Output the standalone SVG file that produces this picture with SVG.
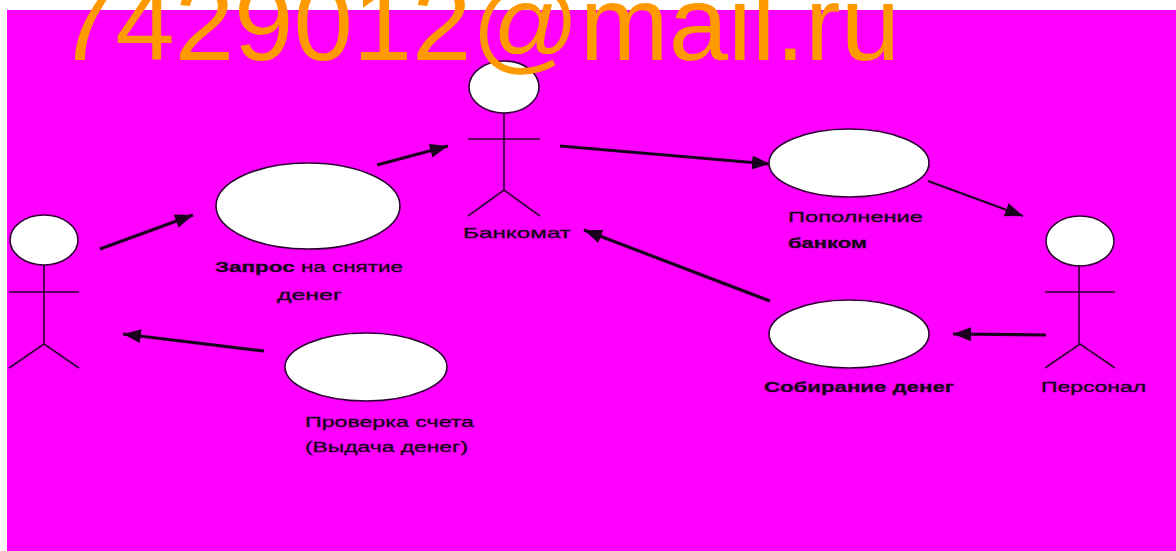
<svg xmlns="http://www.w3.org/2000/svg" width="1176" height="551" viewBox="0 0 1176 551">
<style>
.body{fill:none;stroke:#2a0030;stroke-width:1.6}
.head,.case{fill:#fff;stroke:#2a0030;stroke-width:1.6}
.conn{fill:none;stroke:#1a001e;stroke-width:3.2;marker-end:url(#arrow)}
.thin{stroke-width:2.2}
.lbl{font-family:"Liberation Sans",Arial,sans-serif;font-size:15px;fill:#1a001e;stroke:#1a001e;stroke-width:.35}
.b{font-weight:bold}
.wm{font-family:"Liberation Sans",Arial,sans-serif;font-size:106px;fill:#f90}
</style>
<defs>
<marker id="arrow" markerUnits="userSpaceOnUse" markerWidth="22" markerHeight="16" refX="18" refY="7" orient="auto">
<path d="M0 0L18 7L0 14Z" fill="#1a001e"/>
</marker>
</defs>
<rect x="7" y="10" width="1169" height="541" fill="#f0f"/>
<g id="connectors">
<line class="conn" x1="100" y1="249" x2="193" y2="215"/>
<line class="conn" x1="377" y1="165" x2="448" y2="146"/>
<line class="conn" x1="560" y1="146" x2="770" y2="164"/>
<line class="conn thin" x1="928" y1="181" x2="1023" y2="216"/>
<line class="conn" x1="1046" y1="335" x2="953" y2="334"/>
<line class="conn" x1="770" y1="301" x2="584" y2="230"/>
<line class="conn" x1="264" y1="351" x2="123" y2="334"/>
</g>
<g id="actor-client">
<ellipse class="head" cx="44" cy="240" rx="34" ry="25"/>
<path class="body" d="M44 265V344M9 292H79M9 368L44 344L79 368"/>
</g>
<g id="actor-atm">
<ellipse class="head" cx="504" cy="87" rx="35" ry="26"/>
<path class="body" d="M504 113V190M468 139H540M468 216L504 190L540 216"/>
<text class="lbl" x="463" y="238" textLength="108" lengthAdjust="spacingAndGlyphs">Банкомат</text>
</g>
<g id="actor-staff">
<ellipse class="head" cx="1080" cy="241" rx="34" ry="25"/>
<path class="body" d="M1079 265V344M1045 292H1115M1045 368L1080 344L1115 368"/>
<text class="lbl" x="1041" y="392" textLength="105" lengthAdjust="spacingAndGlyphs">Персонал</text>
</g>
<g id="case-request">
<ellipse class="case" cx="308" cy="206" rx="92" ry="43"/>
<text class="lbl" x="215" y="272" textLength="188" lengthAdjust="spacingAndGlyphs"><tspan class="b">Запрос</tspan> на снятие</text>
<text class="lbl" x="277" y="300" textLength="65" lengthAdjust="spacingAndGlyphs">денег</text>
</g>
<g id="case-check">
<ellipse class="case" cx="366" cy="367" rx="81" ry="34"/>
<text class="lbl" x="305" y="427" textLength="169" lengthAdjust="spacingAndGlyphs">Проверка счета</text>
<text class="lbl" x="305" y="452" textLength="163" lengthAdjust="spacingAndGlyphs">(Выдача денег)</text>
</g>
<g id="case-refill">
<ellipse class="case" cx="849" cy="163" rx="80" ry="34"/>
<text class="lbl" x="788" y="222" textLength="135" lengthAdjust="spacingAndGlyphs">Пополнение</text>
<text class="lbl b" x="788" y="248" textLength="79" lengthAdjust="spacingAndGlyphs">банком</text>
</g>
<g id="case-collect">
<ellipse class="case" cx="849" cy="334" rx="80" ry="34"/>
<text class="lbl b" x="764" y="392" textLength="190" lengthAdjust="spacingAndGlyphs">Собирание денег</text>
</g>
<text id="watermark" class="wm" x="56" y="60" textLength="844" lengthAdjust="spacingAndGlyphs">7429012@mail.ru</text>
</svg>
